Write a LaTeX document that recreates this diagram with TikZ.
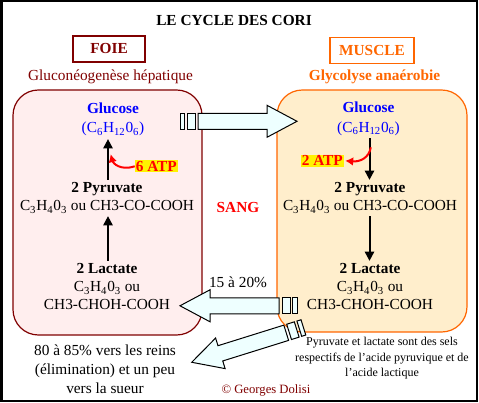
\documentclass[tikz,border=0pt]{standalone}
\usepackage{fontspec}
\setmainfont{Liberation Serif}
\usepackage{xcolor}
\usetikzlibrary{arrows.meta}

\definecolor{foiered}{HTML}{800000}
\definecolor{muscleorange}{HTML}{FF6600}
\definecolor{foiefill}{HTML}{FFEEEE}
\definecolor{musclefill}{HTML}{FFEECC}
\definecolor{sangfill}{HTML}{EEFFFF}

\tikzset{
  sangbox/.style={draw, fill=sangfill, line width=0.75pt, line join=miter},
  sangarrow/.pic={
    \draw[sangbox] (0,-8) rectangle (4.3,8);
    \draw[sangbox] (7,-8) rectangle (15,8);
    \draw[sangbox] (18,-8) -- (87,-8) -- (87,-16) -- (117,0) -- (87,16) -- (87,8) -- (18,8) -- cycle;
  }
}

\begin{document}
\begin{tikzpicture}[x=0.75pt, y=0.75pt,
  font=\fontsize{11.5}{13.3}\selectfont,
  >={Triangle[length=7pt,width=7pt]},
  mol/.style={align=center, inner sep=2pt},
  organ/.style={draw, line width=1.1pt, minimum height=19.5pt, inner sep=1pt},
  organbox/.style={draw, line width=0.9pt, rounded corners=19pt},
  conv/.style={->, line width=1.5pt},
  atp/.style={red, line width=1.5pt, -{Latex[length=6pt,width=6.5pt]}},
  hl/.style={fill=yellow, text=red, inner sep=0.6pt},
  note/.style={align=center, inner sep=1pt, font=\fontsize{9}{10}\selectfont}]
\useasboundingbox (0,0) rectangle (479,403);
\draw[line width=1.5pt] (1.5,1.5) rectangle (477,401.5);
% organs
\draw[organbox, foiered, fill=foiefill] (13,68) rectangle (202,313);
\draw[organbox, muscleorange, fill=musclefill] (277,71) rectangle (467,313);
% blood flow
\pic at (180,281.7) {sangarrow};
\pic[rotate=180] at (297,97.2) {sangarrow};
\pic[rotate=197.35] at (303.4,75.6) {sangarrow};
% titles
\node (title) at (234,382) {\bfseries LE CYCLE DES CORI};
\node[organ, foiered, minimum width=54pt] (foie) at (109,354) {\bfseries FOIE};
\node[organ, muscleorange, minimum width=63pt] (muscle) at (372,352.7) {\bfseries MUSCLE};
\node[foiered] (neo) at (110.5,325.7) {Gluconéogenèse hépatique};
\node[muscleorange] (glyco) at (374.5,326) {\bfseries Glycolyse anaérobie};
% foie
\node[mol, blue] (gluL) at (113,283.3) {\textbf{Glucose}\\[1pt](C\textsubscript{6}H\textsubscript{12}0\textsubscript{6})};
\node[mol] (pyrL) at (107,205) {\textbf{2 Pyruvate}\\C\textsubscript{3}H\textsubscript{4}0\textsubscript{3} ou CH3-CO-COOH};
\node[mol] (lacL) at (107,116.3) {\textbf{2 Lactate}\\C\textsubscript{3}H\textsubscript{4}0\textsubscript{3} ou\\CH3-CHOH-COOH};
\node[hl] (atpL) at (156.3,236.7) {\bfseries 6 ATP};
\draw[conv] (lacL.north -| 108,0) -- (pyrL.south -| 108,0);
\draw[conv] (pyrL.north -| 108,0) -- coordinate[pos=0.63] (neoIn) (gluL.south -| 108,0);
\draw[atp] (atpL.west) .. controls (120,232) and (113,240) .. ([xshift=2]neoIn);
% muscle
\node[mol, blue] (gluR) at (368.5,284.2) {\textbf{Glucose}\\[1pt](C\textsubscript{6}H\textsubscript{12}0\textsubscript{6})};
\node[mol] (pyrR) at (370,205) {\textbf{2 Pyruvate}\\C\textsubscript{3}H\textsubscript{4}0\textsubscript{3} ou CH3-CO-COOH};
\node[mol] (lacR) at (370,116.3) {\textbf{2 Lactate}\\C\textsubscript{3}H\textsubscript{4}0\textsubscript{3} ou\\CH3-CHOH-COOH};
\node[hl] (atpR) at (322.3,242.2) {\bfseries 2 ATP};
\draw[conv] (gluR.south -| 369.5,0) -- coordinate[pos=0.22] (glyOut) (pyrR.north -| 369.5,0);
\draw[conv] (pyrR.south -| 369.5,0) -- (lacR.north -| 369.5,0);
\draw[atp] ([xshift=1]glyOut) .. controls (369,245) and (360,241) .. ([xshift=1]atpR.east);
% sang
\node[red] (sang) at (238,195) {\bfseries SANG};
\node (part) at (238,120.3) {15 à 20\%};
\node[mol] (reins) at (105,34) {80 à 85\% vers les reins\\[1pt](élimination) et un peu\\[1pt]vers la sueur};
\node[note] (sels) at (382,44.7) {Pyruvate et lactate sont des sels\\[1.5pt]respectifs de l'acide pyruvique et de\\[1.5pt]l'acide lactique};
\node[foiered, font=\fontsize{9.5}{11}\selectfont] (auteur) at (266,13) {© Georges Dolisi};
\end{tikzpicture}
\end{document}
